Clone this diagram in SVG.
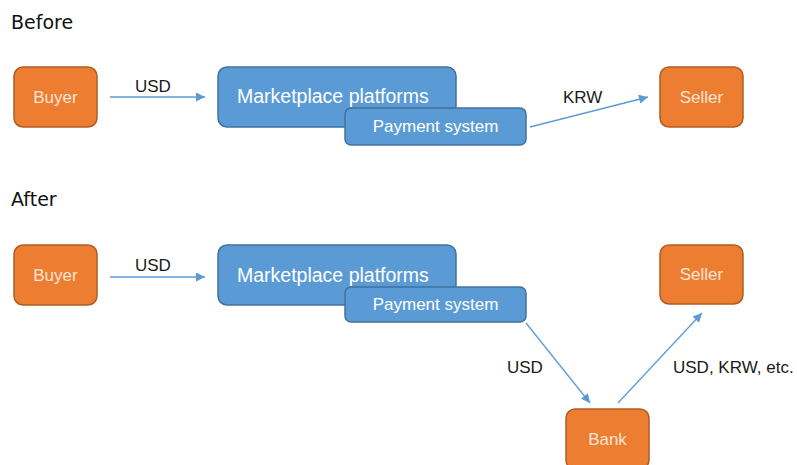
<svg xmlns="http://www.w3.org/2000/svg" width="797" height="465" viewBox="0 0 797 465">
  <defs>
    <style>
      .orange { fill: #ED7D31; stroke: #B05C23; stroke-width: 1.5; }
      .blue { fill: #5B9BD5; stroke: #41719C; stroke-width: 1.5; }
      .otext { font-family: "Liberation Sans", Arial, sans-serif; font-size: 17px; fill: #FBE5D6; text-anchor: middle; }
      .btext { font-family: "Liberation Sans", Arial, sans-serif; fill: #FFFFFF; }
      .label { font-family: "Liberation Sans", Arial, sans-serif; font-size: 17px; fill: #1a1a1a; }
      .section { font-family: "DejaVu Sans", "Liberation Sans", sans-serif; font-size: 19px; fill: #111111; }
      .conn { stroke: #5B9BD5; stroke-width: 1.3; fill: none; marker-end: url(#arrow); }
    </style>
    <marker id="arrow" viewBox="0 0 10 10" refX="10" refY="5" markerWidth="11" markerHeight="9" markerUnits="userSpaceOnUse" orient="auto">
      <path d="M0,0 L10,5 L0,10 z" fill="#5B9BD5"/>
    </marker>
  </defs>
  <rect width="797" height="465" fill="#FFFFFF"/>

  <text class="section" x="11" y="29">Before</text>
  <text class="section" x="11" y="206">After</text>

  <g id="connectors">
    <line class="conn" x1="110" y1="97" x2="205" y2="97"/>
    <line class="conn" x1="530" y1="127" x2="648" y2="97"/>
    <line class="conn" x1="110" y1="277" x2="205" y2="277"/>
    <line class="conn" x1="526" y1="323" x2="590" y2="403"/>
    <line class="conn" x1="618" y1="403" x2="702" y2="313"/>
    <text class="label" x="135" y="92">USD</text>
    <text class="label" x="563" y="103">KRW</text>
    <text class="label" x="135" y="271">USD</text>
    <text class="label" x="507" y="373">USD</text>
    <text class="label" x="673" y="373">USD, KRW, etc.</text>
  </g>

  <g id="buyer1">
    <rect class="orange" x="14" y="67" width="83" height="60" rx="9"/>
    <text class="otext" x="55.5" y="103">Buyer</text>
  </g>
  <g id="market1">
    <rect class="blue" x="218" y="67" width="238" height="60" rx="9"/>
    <text class="btext" x="237" y="103" font-size="19.5">Marketplace platforms</text>
  </g>
  <g id="payment1">
    <rect class="blue" x="345" y="108" width="181" height="37" rx="6"/>
    <text class="btext" x="435.5" y="132" font-size="17" text-anchor="middle">Payment system</text>
  </g>
  <g id="seller1">
    <rect class="orange" x="660" y="67" width="83" height="60" rx="9"/>
    <text class="otext" x="701.5" y="103">Seller</text>
  </g>

  <g id="buyer2">
    <rect class="orange" x="14" y="245" width="83" height="60" rx="9"/>
    <text class="otext" x="55.5" y="281">Buyer</text>
  </g>
  <g id="market2">
    <rect class="blue" x="218" y="245" width="238" height="60" rx="9"/>
    <text class="btext" x="237" y="282" font-size="19.5">Marketplace platforms</text>
  </g>
  <g id="payment2">
    <rect class="blue" x="345" y="287" width="181" height="35" rx="6"/>
    <text class="btext" x="435.5" y="310" font-size="17" text-anchor="middle">Payment system</text>
  </g>
  <g id="seller2">
    <rect class="orange" x="660" y="245" width="83" height="59" rx="9"/>
    <text class="otext" x="701.5" y="280">Seller</text>
  </g>
  <g id="bank">
    <rect class="orange" x="566" y="409" width="83" height="60" rx="9"/>
    <text class="otext" x="607.5" y="445">Bank</text>
  </g>
</svg>
